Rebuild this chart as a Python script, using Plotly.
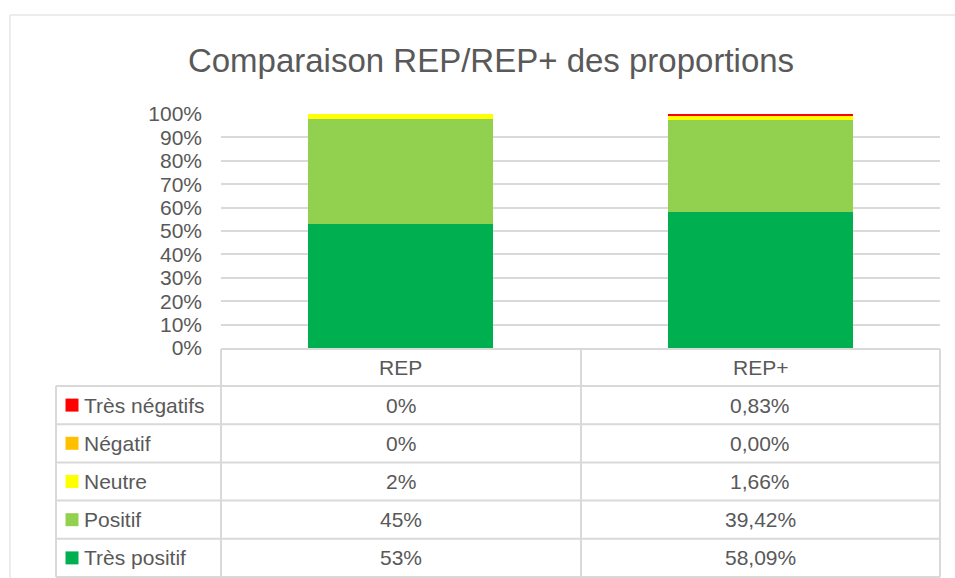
import plotly.graph_objects as go

# data
categories = ["REP", "REP+"]
series = ["Très positif", "Positif", "Neutre", "Négatif", "Très négatifs"]
colors = ["#00B050", "#92D050", "#FFFF00", "#FFC000", "#FF0000"]
tres_positif = [0.53, 0.5809]
positif = [0.45, 0.3942]
neutre = [0.02, 0.0166]
negatif = [0.0, 0.0]
tres_negatifs = [0.0, 0.0083]
values = [tres_positif, positif, neutre, negatif, tres_negatifs]
value_formats = ["{:.0%}", "{:.2%}"]  # REP shown as integers, REP+ with 2 decimals

W, H = 955, 578
L, R, T, B = 221, 15, 114, 230
PW, PH = W - L - R, H - T - B
GRID = "#D9D9D9"
TXT = "#595959"
FONT = "Liberation Sans, Arial, sans-serif"


def px(x):
    return (x - L) / PW


def py(y):
    return (H - B - y) / PH


fig = go.Figure()
for name, vals, col in zip(series, values, colors):
    fig.add_trace(go.Bar(x=categories, y=vals, name=name, marker_color=col,
                         marker_line_width=0, showlegend=False))

shapes = []
annotations = []

# outer chart border
shapes.append(dict(type="rect", xref="paper", yref="paper",
                   x0=px(10), x1=px(970), y0=py(600), y1=py(15),
                   line=dict(color=GRID, width=1)))

# data table
row_top = 386
row_h = 38.2
col_edges = [56, 221, 581, 940]
line = dict(color=GRID, width=2)
# header row (only over the value columns)
shapes.append(dict(type="line", xref="paper", yref="paper", x0=px(221), x1=px(940),
                   y0=py(349), y1=py(349), line=line))
for xe in col_edges[1:]:
    shapes.append(dict(type="line", xref="paper", yref="paper", x0=px(xe), x1=px(xe),
                       y0=py(349), y1=py(row_top + 5 * row_h), line=line))
shapes.append(dict(type="line", xref="paper", yref="paper", x0=px(56), x1=px(56),
                   y0=py(row_top), y1=py(row_top + 5 * row_h), line=line))
for i in range(6):
    yy = row_top + i * row_h
    shapes.append(dict(type="line", xref="paper", yref="paper", x0=px(56), x1=px(940),
                       y0=py(yy), y1=py(yy), line=line))

tfont = dict(size=21, color=TXT, family=FONT)
for c in categories:
    annotations.append(dict(x=c, xref="x", y=py(367), yref="paper", text=c,
                            xanchor="center", yanchor="middle",
                            showarrow=False, font=tfont))

table_rows = list(zip(series, values, colors))[::-1]
for i, (name, vals, col) in enumerate(table_rows):
    yc = row_top + (i + 0.5) * row_h
    shapes.append(dict(type="rect", xref="paper", yref="paper",
                       x0=px(65.5), x1=px(78.5), y0=py(yc - 6.5), y1=py(yc + 6.5),
                       fillcolor=col, line=dict(width=0)))
    annotations.append(dict(x=px(82), xref="paper", y=py(yc), yref="paper", text=name,
                            xanchor="left", yanchor="middle", showarrow=False,
                            font=tfont))
    for c, v, fmt in zip(categories, vals, value_formats):
        annotations.append(dict(x=c, xref="x", y=py(yc), yref="paper",
                                text=fmt.format(v).replace(".", ","), showarrow=False,
                                xanchor="center", yanchor="middle", font=tfont))

fig.update_layout(
    width=W, height=H,
    margin=dict(l=L, r=R, t=T, b=B),
    barmode="stack",
    bargap=0.485,
    plot_bgcolor="white",
    paper_bgcolor="white",
    title=dict(text="Comparaison REP/REP+ des proportions", x=491 / W, xanchor="center",
               y=1 - 60 / H, yanchor="middle",
               font=dict(size=33, color=TXT, family=FONT)),
    xaxis=dict(showticklabels=False, showgrid=False, zeroline=False, showline=False),
    yaxis=dict(range=[0, 1], dtick=0.1, tickformat=".0%", showgrid=True,
               gridcolor=GRID, gridwidth=1.5, zeroline=False, showline=False,
               ticks="", ticklabelstandoff=18,
               tickfont=dict(size=21, color=TXT, family=FONT)),
    shapes=shapes,
    annotations=annotations,
)

# page has a default 8px body margin; drop it so the figure sits at the corner
fig.write_html("out.html", config={"displayModeBar": False},
               post_script="document.body.style.margin='0';")
